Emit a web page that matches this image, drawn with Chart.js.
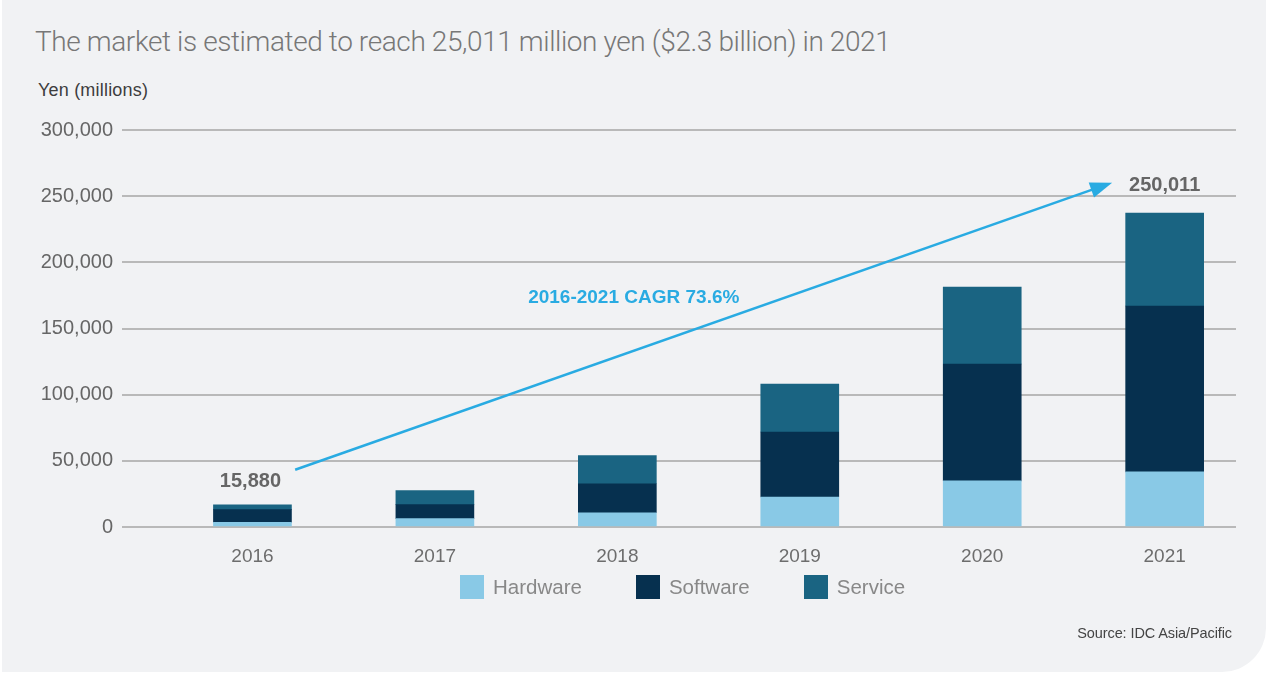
<!DOCTYPE html>
<html>
<head>
<meta charset="utf-8">
<script src="https://cdn.jsdelivr.net/npm/chart.js@4.4.1/dist/chart.umd.min.js"></script>
<style>
  html, body { margin: 0; padding: 0; background: #fff; }
  body { position: relative; width: 1266px; height: 674px; overflow: hidden; }
  #panel { position: absolute; left: 2px; top: 0; width: 1264px; height: 672px; background: #f1f2f4; border-bottom-right-radius: 44px; }
  #wrap { position: absolute; left: 0; top: 0; width: 1266px; height: 674px; }
  .title { position: absolute; left: 35px; top: 25px; font-family: Roboto, sans-serif; font-weight: 300; font-size: 28px; letter-spacing: -0.4px; color: #777; white-space: nowrap; }
  .unit { position: absolute; left: 38px; top: 80px; font-family: "Liberation Sans", Arial, sans-serif; font-size: 18px; letter-spacing: 0.2px; color: #3d3d3d; }
  .source { position: absolute; right: 34px; top: 625px; font-family: "Liberation Sans", Arial, sans-serif; font-size: 14.5px; letter-spacing: -0.1px; color: #444; }
  #legend { position: absolute; left: 460px; top: 575px; display: flex; gap: 54px; font-family: "Liberation Sans", Arial, sans-serif; font-size: 20.5px; color: #888; }
  #legend .item { display: flex; align-items: center; height: 24px; }
  #legend .box { width: 24px; height: 24px; margin-right: 9px; }
</style>
</head>
<body>
<div id="panel"></div>
<div class="title">The market is estimated to reach 25,011 million yen ($2.3 billion) in 2021</div>
<div class="unit">Yen (millions)</div>
<div id="wrap"><canvas id="chart" width="1266" height="674"></canvas></div>
<div id="legend"></div>
<div class="source">Source: IDC Asia/Pacific</div>
<script>
// values (millions of yen)
const years = [2016, 2017, 2018, 2019, 2020, 2021];
const hardware = [3500, 6300, 10800, 22700, 34800, 41600];
const software = [9600, 10600, 21900, 49100, 88400, 125400];
const service = [3700, 10600, 21200, 36200, 58100, 70300];
const seriesNames = ["Hardware", "Software", "Service"];
const seriesColors = ["#89c9e6", "#06304f", "#1a6482"];
const yMin = 0, yMax = 300000, yStep = 50000;
const totalLabels = [["2016", "15,880"], ["2021", "250,011"]];
const cagrLabel = "2016-2021 CAGR 73.6%";

const series = [hardware, software, service];

const annotate = {
  id: "annotate",
  afterDatasetsDraw(chart) {
    const ctx = chart.ctx;
    const x = chart.scales.x, y = chart.scales.y;
    ctx.save();

    // growth arrow
    const x0 = x.getPixelForValue(2016.234), y0 = y.getPixelForValue(43300);
    const x1 = x.getPixelForValue(2020.712), y1 = y.getPixelForValue(260200);
    const ang = Math.atan2(y1 - y0, x1 - x0);
    const head = 22, half = 8;
    ctx.strokeStyle = "#29abe2";
    ctx.fillStyle = "#29abe2";
    ctx.lineWidth = 2.5;
    ctx.beginPath();
    ctx.moveTo(x0, y0);
    ctx.lineTo(x1 - Math.cos(ang) * (head - 4), y1 - Math.sin(ang) * (head - 4));
    ctx.stroke();
    ctx.beginPath();
    ctx.moveTo(x1, y1);
    ctx.lineTo(x1 - Math.cos(ang) * head - Math.sin(ang) * half, y1 - Math.sin(ang) * head + Math.cos(ang) * half);
    ctx.lineTo(x1 - Math.cos(ang) * head + Math.sin(ang) * half, y1 - Math.sin(ang) * head - Math.cos(ang) * half);
    ctx.closePath();
    ctx.fill();

    ctx.textAlign = "center";
    ctx.textBaseline = "middle";
    ctx.font = "bold 19px 'Liberation Sans', Arial, sans-serif";
    ctx.fillText(cagrLabel, x.getPixelForValue(2018.09), y.getPixelForValue(173000));

    ctx.fillStyle = "#666";
    ctx.font = "bold 20px 'Liberation Sans', Arial, sans-serif";
    ctx.fillText(totalLabels[0][1], x.getPixelForValue(Number(totalLabels[0][0])) - 2, y.getPixelForValue(34200));
    ctx.fillText(totalLabels[1][1], x.getPixelForValue(Number(totalLabels[1][0])), y.getPixelForValue(257900));
    ctx.restore();
  }
};

const chart = new Chart(document.getElementById("chart"), {
  type: "bar",
  data: {
    datasets: seriesNames.map(function (name, k) {
      return {
        label: name,
        data: years.map(function (yr, i) { return { x: yr, y: series[k][i] }; }),
        backgroundColor: seriesColors[k],
        borderWidth: 0,
        barThickness: 78
      };
    })
  },
  options: {
    responsive: false,
    animation: false,
    layout: { padding: { left: 0, right: 30, top: 130, bottom: 107 } },
    plugins: { legend: { display: false }, tooltip: { enabled: false } },
    scales: {
      x: {
        type: "linear",
        stacked: true,
        offset: false,
        min: 2015.285,
        max: 2021.391,
        grid: { display: false, offset: false },
        border: { display: false },
        afterBuildTicks: function (s) { s.ticks = years.map(function (v) { return { value: v }; }); },
        afterFit: function (s) { s.height = 40; },
        ticks: {
          autoSkip: false,
          maxRotation: 0,
          padding: 10,
          color: "#6d6d6d",
          font: { family: "'Liberation Sans', Arial, sans-serif", size: 19 },
          callback: function (v) { return String(v); }
        }
      },
      y: {
        stacked: true,
        min: yMin,
        max: yMax,
        grid: { color: "#b9b9b9", lineWidth: 2, drawTicks: false },
        border: { display: false },
        afterFit: function (s) { s.width = 122; },
        ticks: {
          stepSize: yStep,
          padding: 9,
          color: "#666",
          font: { family: "'Liberation Sans', Arial, sans-serif", size: 20 }
        }
      }
    }
  },
  plugins: [annotate]
});

// legend built from the chart's datasets
const legend = document.getElementById("legend");
chart.data.datasets.forEach(function (ds) {
  const item = document.createElement("div");
  item.className = "item";
  const box = document.createElement("span");
  box.className = "box";
  box.style.background = ds.backgroundColor;
  item.appendChild(box);
  item.appendChild(document.createTextNode(ds.label));
  legend.appendChild(item);
});
</script>
</body>
</html>
